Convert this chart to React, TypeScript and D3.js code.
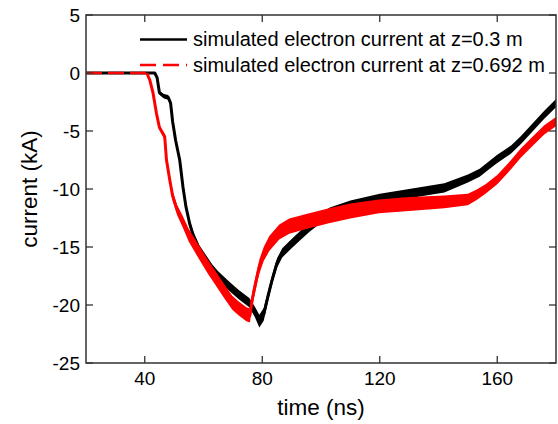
import React from "react";
import * as d3 from "d3";

// time (ns), current (kA), band half-width (kA)
const timeBlack = [20, 43.4, 44.2, 45, 46.5, 48, 48.8, 49.5, 50.5, 51.9, 53, 54, 55.3, 56.5, 58.6, 61, 63, 65, 68.8, 72, 75.6, 77.5, 79, 80.5, 82, 83.4, 85, 86.8, 90, 93, 96, 100, 103, 110, 120, 130, 142, 150, 154, 157, 160, 164.7, 168, 172, 176, 180];
const currentBlack = [0, 0, -0.4, -1.7, -2.0, -2.1, -2.6, -4.2, -5.8, -7.5, -9.8, -11.5, -13.0, -14.0, -15.2, -16.1, -16.9, -17.5, -18.4, -19.1, -19.8, -20.6, -21.4, -20.8, -19.2, -17.8, -16.4, -15.5, -14.7, -14.0, -13.3, -12.5, -12.0, -11.4, -10.8, -10.4, -9.9, -9.1, -8.6, -8.0, -7.4, -6.6, -5.8, -4.7, -3.6, -2.6];
const bandBlack = [0, 0, 0.05, 0.15, 0.2, 0.2, 0.2, 0.2, 0.2, 0.2, 0.25, 0.25, 0.3, 0.35, 0.35, 0.35, 0.4, 0.4, 0.4, 0.4, 0.4, 0.45, 0.55, 0.55, 0.45, 0.4, 0.4, 0.4, 0.4, 0.4, 0.4, 0.4, 0.4, 0.4, 0.4, 0.4, 0.4, 0.35, 0.35, 0.35, 0.35, 0.35, 0.35, 0.35, 0.35, 0.35];

const timeRed = [20, 40.7, 41.7, 42.8, 44, 45, 46.8, 47.4, 48.5, 49.5, 51, 52.9, 55, 58.6, 61.5, 64.4, 67, 69.8, 72, 74.6, 75.8, 76.6, 78, 79, 80.5, 82.4, 85.8, 89.2, 95, 102.7, 110, 119.7, 130, 142, 150, 153, 156, 160, 164.7, 168, 172, 176, 180];
const currentRed = [0, 0, -0.6, -1.7, -3.5, -4.7, -5.5, -7.5, -9.2, -10.6, -11.8, -12.8, -14.0, -15.5, -16.7, -17.8, -18.8, -19.8, -20.3, -20.8, -20.9, -19.5, -17.8, -16.7, -15.6, -14.7, -13.7, -13.2, -12.8, -12.3, -11.9, -11.5, -11.3, -11.1, -10.9, -10.5, -10.0, -9.2, -7.9, -6.9, -5.9, -4.9, -4.2];
const bandRed = [0, 0, 0.1, 0.15, 0.2, 0.2, 0.25, 0.3, 0.35, 0.4, 0.45, 0.5, 0.55, 0.6, 0.6, 0.6, 0.6, 0.6, 0.6, 0.6, 0.6, 0.6, 0.6, 0.6, 0.6, 0.65, 0.65, 0.65, 0.65, 0.65, 0.65, 0.6, 0.6, 0.55, 0.5, 0.45, 0.4, 0.4, 0.4, 0.4, 0.4, 0.4, 0.4];

const xTicks = [40, 80, 120, 160];
const yTicks = [5, 0, -5, -10, -15, -20, -25];
const legendLabels = [
  "simulated electron current at z=0.3 m",
  "simulated electron current at z=0.692 m",
];
const seriesColors = ["#000000", "#ff0000"];

const W = 558;
const H = 424;
const L = 86, R = 556, T = 15, B = 363;
const FONT = "'Liberation Sans', Arial, Helvetica, sans-serif";

type Pt = { t: number; v: number; h: number };

function toPts(ts: number[], vs: number[], hs: number[]): Pt[] {
  return ts.map((t, i) => ({ t, v: vs[i], h: hs[i] }));
}

export default function App() {
  const x = d3.scaleLinear().domain([20, 180]).range([L, R]);
  const y = d3.scaleLinear().domain([-25, 5]).range([B, T]);

  const blackPts = toPts(timeBlack, currentBlack, bandBlack);
  const redPts = toPts(timeRed, currentRed, bandRed);

  const line = d3.line<Pt>().x((d) => x(d.t)).y((d) => y(d.v));
  const area = d3
    .area<Pt>()
    .x((d) => x(d.t))
    .y0((d) => y(d.v - d.h))
    .y1((d) => y(d.v + d.h));

  const redFlatEnd = timeRed.indexOf(40.7);
  const redFlat = redPts.slice(0, redFlatEnd + 1);
  const redRest = redPts.slice(redFlatEnd);

  const tickLen = 7;
  const axisColor = "#333";

  return (
    <svg
      width={W}
      height={H}
      style={{ position: "absolute", left: 0, top: 0, background: "#fff" }}
      fontFamily={FONT}
    >
      <defs>
        <clipPath id="plotclip">
          <rect x={L} y={T} width={R - L} height={B - T} />
        </clipPath>
      </defs>

      <g clipPath="url(#plotclip)">
        {/* black series */}
        <path d={area(blackPts) || ""} fill={seriesColors[0]} />
        <path d={line(blackPts) || ""} fill="none" stroke={seriesColors[0]} strokeWidth={3} strokeLinejoin="round" />
        {/* red series */}
        <path d={area(redRest) || ""} fill={seriesColors[1]} />
        <path d={line(redFlat) || ""} fill="none" stroke={seriesColors[1]} strokeWidth={2.6} strokeDasharray="16,6" />
        <path d={line(redRest) || ""} fill="none" stroke={seriesColors[1]} strokeWidth={3} strokeLinejoin="round" />
      </g>

      {/* frame */}
      <rect x={L} y={T} width={R - L} height={B - T} fill="none" stroke={axisColor} strokeWidth={1.5} />

      {/* x ticks */}
      {xTicks.map((t) => (
        <g key={"x" + t}>
          <line x1={x(t)} x2={x(t)} y1={B} y2={B - tickLen} stroke={axisColor} strokeWidth={1.3} />
          <line x1={x(t)} x2={x(t)} y1={T} y2={T + tickLen} stroke={axisColor} strokeWidth={1.3} />
          <text x={x(t)} y={385} textAnchor="middle" fontSize={19} fill="#000">
            {t}
          </text>
        </g>
      ))}

      {/* y ticks */}
      {yTicks.map((v) => (
        <g key={"y" + v}>
          <line x1={L} x2={L + tickLen} y1={y(v)} y2={y(v)} stroke={axisColor} strokeWidth={1.3} />
          <line x1={R} x2={R - tickLen} y1={y(v)} y2={y(v)} stroke={axisColor} strokeWidth={1.3} />
          <text x={80} y={y(v)} dy="0.35em" textAnchor="end" fontSize={19} fill="#000">
            {v}
          </text>
        </g>
      ))}

      {/* axis titles */}
      <text x={(L + R) / 2} y={415} textAnchor="middle" fontSize={22.5} fill="#000">
        time (ns)
      </text>
      <text
        transform={`translate(37,${(T + B) / 2}) rotate(-90)`}
        textAnchor="middle"
        fontSize={22.5}
        fill="#000"
      >
        current (kA)
      </text>

      {/* legend */}
      {legendLabels.map((lab, i) => {
        const ly = i === 0 ? 39.5 : 65;
        return (
          <g key={lab}>
            <line
              x1={140}
              x2={187}
              y1={ly}
              y2={ly}
              stroke={seriesColors[i]}
              strokeWidth={2.6}
              strokeDasharray={i === 1 ? "16,7" : undefined}
            />
            <text x={193} y={ly + 6.5} fontSize={20} fill="#000">
              {lab}
            </text>
          </g>
        );
      })}
    </svg>
  );
}
